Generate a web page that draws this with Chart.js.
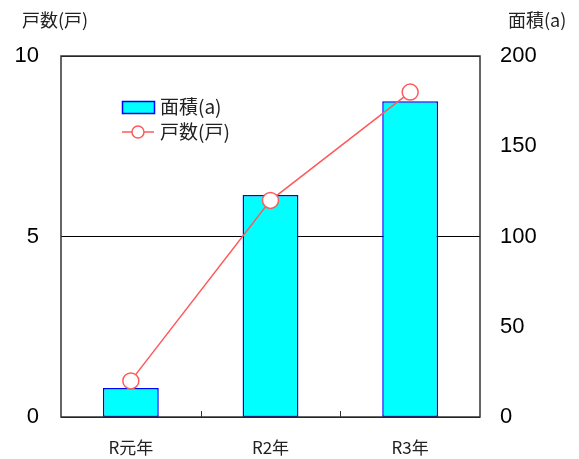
<!DOCTYPE html>
<html>
<head>
<meta charset="utf-8">
<script src="https://cdn.jsdelivr.net/npm/chart.js@4"></script>
<style>
  html, body { margin: 0; padding: 0; background: #fff; }
  #wrap { width: 579px; height: 459px; }
</style>
</head>
<body>
<div id="wrap"><canvas id="farmChart" width="579" height="459"></canvas></div>
<script>
const categories = ['R元年', 'R2年', 'R3年'];
const areaValues = [16, 123, 175];      // 面積(a)
const householdValues = [1, 6, 9];      // 戸数(戸)
const leftTicks = [0, 5, 10];
const rightTicks = [0, 50, 100, 150, 200];

const jpFont = '"Noto Sans CJK JP", sans-serif';
const numFont = '"Liberation Sans", Arial, sans-serif';

// frame, inside ticks on x axis, axis titles and legend
const decor = {
    id: 'decor',
    afterDraw(chart) {
        const ctx = chart.ctx;
        const a = chart.chartArea;
        const x = chart.scales.x;
        ctx.save();
        ctx.strokeStyle = '#333';
        ctx.lineWidth = 1.5;
        ctx.strokeRect(a.left, a.top, a.right - a.left, a.bottom - a.top);

        ctx.lineWidth = 1;
        for (let i = 1; i < categories.length; i++) {
            const px = Math.round((x.getPixelForValue(i - 1) + x.getPixelForValue(i)) / 2) + 0.5;
            ctx.beginPath();
            ctx.moveTo(px, a.bottom);
            ctx.lineTo(px, a.bottom - 6);
            ctx.stroke();
        }

        ctx.fillStyle = '#222';
        ctx.font = '18px ' + jpFont;
        ctx.textBaseline = 'middle';
        ctx.textAlign = 'left';
        ctx.fillText('戸数(戸)', 22, 20);
        ctx.fillText('面積(a)', 508, 20);

        // legend
        const lx = 122, ly = 107;
        ctx.fillStyle = '#00ffff';
        ctx.strokeStyle = '#0000ff';
        ctx.lineWidth = 1.5;
        ctx.fillRect(lx, ly - 6, 32, 12);
        ctx.strokeRect(lx + 0.5, ly - 5.5, 32, 12);
        ctx.fillStyle = '#222';
        ctx.font = '19px ' + jpFont;
        ctx.fillText('面積(a)', 160, ly);

        const ly2 = ly + 25;
        ctx.strokeStyle = '#ff5a5a';
        ctx.lineWidth = 1.5;
        ctx.beginPath();
        ctx.moveTo(lx, ly2);
        ctx.lineTo(lx + 32, ly2);
        ctx.stroke();
        ctx.fillStyle = '#fff';
        ctx.beginPath();
        ctx.arc(lx + 16, ly2, 6, 0, Math.PI * 2);
        ctx.fill();
        ctx.stroke();
        ctx.fillStyle = '#222';
        ctx.fillText('戸数(戸)', 160, ly2);
        ctx.restore();
    }
};

const ctx = document.getElementById('farmChart').getContext('2d');
const farmChart = new Chart(ctx, {
    type: 'bar',
    data: {
        labels: categories,
        datasets: [
            {
                type: 'line',
                label: '戸数(戸)',
                data: householdValues,
                yAxisID: 'y',
                borderColor: '#ff5a5a',
                borderWidth: 1.5,
                pointRadius: 8,
                pointBackgroundColor: '#fff',
                pointBorderColor: '#ff5a5a',
                pointBorderWidth: 1.5,
                tension: 0,
                order: 0
            },
            {
                type: 'bar',
                label: '面積(a)',
                data: areaValues,
                yAxisID: 'y2',
                backgroundColor: '#00ffff',
                borderColor: '#0000ff',
                borderWidth: 1.5,
                borderSkipped: false,
                categoryPercentage: 1,
                barPercentage: 0.4,
                order: 1
            }
        ]
    },
    options: {
        responsive: false,
        animation: false,
        layout: { padding: { top: 56, right: 0, left: 0, bottom: 0 } },
        plugins: {
            legend: { display: false },
            tooltip: { enabled: false }
        },
        scales: {
            x: {
                offset: true,
                grid: { display: false, drawTicks: false },
                border: { display: false },
                ticks: {
                    color: '#222',
                    padding: 20,
                    font: { family: jpFont, size: 17 }
                },
                afterFit(scale) { scale.height = 42; }
            },
            y: {
                position: 'left',
                min: 0,
                max: 10,
                afterBuildTicks(scale) { scale.ticks = leftTicks.map(v => ({ value: v })); },
                grid: { color: '#000', lineWidth: 1, drawTicks: false },
                border: { display: false },
                ticks: {
                    color: '#000',
                    padding: 22,
                    font: { family: numFont, size: 22 }
                },
                afterFit(scale) { scale.width = 61; }
            },
            y2: {
                position: 'right',
                min: 0,
                max: 200,
                afterBuildTicks(scale) { scale.ticks = rightTicks.map(v => ({ value: v })); },
                grid: { display: false, drawTicks: false },
                border: { display: false },
                ticks: {
                    color: '#000',
                    padding: 20,
                    font: { family: numFont, size: 22 }
                },
                afterFit(scale) { scale.width = 99; }
            }
        }
    },
    plugins: [decor]
});
</script>
</body>
</html>
